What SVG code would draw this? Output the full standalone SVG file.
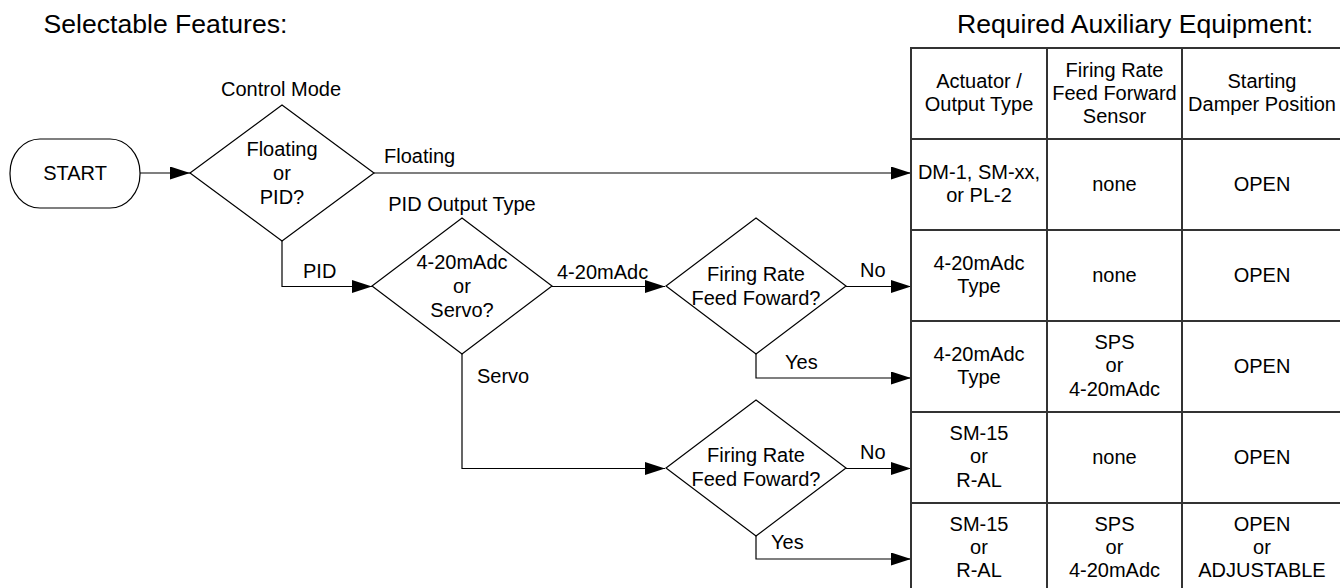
<svg xmlns="http://www.w3.org/2000/svg" width="1340" height="588" viewBox="0 0 1340 588">
<style>
text{font-family:"Liberation Sans",Arial,sans-serif;font-size:20px;fill:#000}
.t{font-size:26.6px}
.c{text-anchor:middle}
.shape{fill:#fff;stroke:#000;stroke-width:1.2}
.conn{fill:none;stroke:#000;stroke-width:1.2}
.grid{fill:none;stroke:#333;stroke-width:2}
</style>
<defs>
<marker id="arr" markerUnits="userSpaceOnUse" markerWidth="20" markerHeight="13" refX="20" refY="6.5" orient="auto">
<path d="M0,0 L20,6.5 L0,13 z" fill="#000"/>
</marker>
</defs>
<rect width="1340" height="588" fill="#fff"/>
<text class="t" x="43.5" y="33">Selectable Features:</text>
<text class="t" x="957" y="33">Required Auxiliary Equipment:</text>

<g id="connectors">
<path class="conn" d="M140,173 H190" marker-end="url(#arr)"/>
<path class="conn" d="M374,173 H911" marker-end="url(#arr)"/>
<path class="conn" d="M282,241 V286.5 H372" marker-end="url(#arr)"/>
<path class="conn" d="M552,286.5 H665" marker-end="url(#arr)"/>
<path class="conn" d="M462,354 V468.5 H665" marker-end="url(#arr)"/>
<path class="conn" d="M846,286.5 H911" marker-end="url(#arr)"/>
<path class="conn" d="M756,354 V378 H911" marker-end="url(#arr)"/>
<path class="conn" d="M846,468.5 H911" marker-end="url(#arr)"/>
<path class="conn" d="M756,536 V559 H911" marker-end="url(#arr)"/>
<text x="384" y="163">Floating</text>
<text x="303" y="278">PID</text>
<text x="557" y="279">4-20mAdc</text>
<text x="477" y="383">Servo</text>
<text x="860" y="277">No</text>
<text x="785" y="369">Yes</text>
<text x="860" y="459">No</text>
<text x="771" y="549">Yes</text>
</g>

<g id="start">
<rect class="shape" x="10" y="139" width="130" height="69" rx="30" ry="34"/>
<text class="c" x="75" y="180">START</text>
</g>

<g id="control-mode">
<text class="c" x="281" y="95.5">Control Mode</text>
<path class="shape" d="M282,105 L374,173 L282,241 L190,173 Z"/>
<text class="c" x="282" y="156">Floating</text>
<text class="c" x="282" y="180">or</text>
<text class="c" x="282" y="204">PID?</text>
</g>

<g id="pid-output-type">
<text class="c" x="462" y="211">PID Output Type</text>
<path class="shape" d="M462,218 L552,286 L462,354 L372,286 Z"/>
<text class="c" x="462" y="269">4-20mAdc</text>
<text class="c" x="462" y="293">or</text>
<text class="c" x="462" y="317">Servo?</text>
</g>

<g id="ff-analog">
<path class="shape" d="M756,218 L846,286 L756,354 L666,286 Z"/>
<text class="c" x="756" y="281">Firing Rate</text>
<text class="c" x="756" y="305">Feed Foward?</text>
</g>

<g id="ff-servo">
<path class="shape" d="M756,400 L846,468 L756,536 L666,468 Z"/>
<text class="c" x="756" y="462">Firing Rate</text>
<text class="c" x="756" y="486">Feed Foward?</text>
</g>

<g id="table">
<rect class="grid" x="911" y="48" width="432" height="546"/>
<path class="grid" d="M911,139 H1343 M911,230 H1343 M911,321 H1343 M911,412 H1343 M911,503 H1343 M1047,48 V594 M1182,48 V594"/>
<g id="header">
<text class="c" x="979" y="88">Actuator /</text>
<text class="c" x="979" y="111">Output Type</text>
<text class="c" x="1114.5" y="77">Firing Rate</text>
<text class="c" x="1114.5" y="100">Feed Forward</text>
<text class="c" x="1114.5" y="123">Sensor</text>
<text class="c" x="1262" y="88">Starting</text>
<text class="c" x="1262" y="111">Damper Position</text>
</g>
<g id="row1">
<text class="c" x="979" y="179">DM-1, SM-xx,</text>
<text class="c" x="979" y="202">or PL-2</text>
<text class="c" x="1114.5" y="191">none</text>
<text class="c" x="1262" y="191">OPEN</text>
</g>
<g id="row2">
<text class="c" x="979" y="270">4-20mAdc</text>
<text class="c" x="979" y="293">Type</text>
<text class="c" x="1114.5" y="282">none</text>
<text class="c" x="1262" y="282">OPEN</text>
</g>
<g id="row3">
<text class="c" x="979" y="361">4-20mAdc</text>
<text class="c" x="979" y="384">Type</text>
<text class="c" x="1114.5" y="349">SPS</text>
<text class="c" x="1114.5" y="372">or</text>
<text class="c" x="1114.5" y="396">4-20mAdc</text>
<text class="c" x="1262" y="373">OPEN</text>
</g>
<g id="row4">
<text class="c" x="979" y="440">SM-15</text>
<text class="c" x="979" y="463">or</text>
<text class="c" x="979" y="487">R-AL</text>
<text class="c" x="1114.5" y="464">none</text>
<text class="c" x="1262" y="464">OPEN</text>
</g>
<g id="row5">
<text class="c" x="979" y="531">SM-15</text>
<text class="c" x="979" y="554">or</text>
<text class="c" x="979" y="577">R-AL</text>
<text class="c" x="1114.5" y="531">SPS</text>
<text class="c" x="1114.5" y="554">or</text>
<text class="c" x="1114.5" y="577">4-20mAdc</text>
<text class="c" x="1262" y="531">OPEN</text>
<text class="c" x="1262" y="554">or</text>
<text class="c" x="1262" y="577">ADJUSTABLE</text>
</g>
</g>
</svg>
